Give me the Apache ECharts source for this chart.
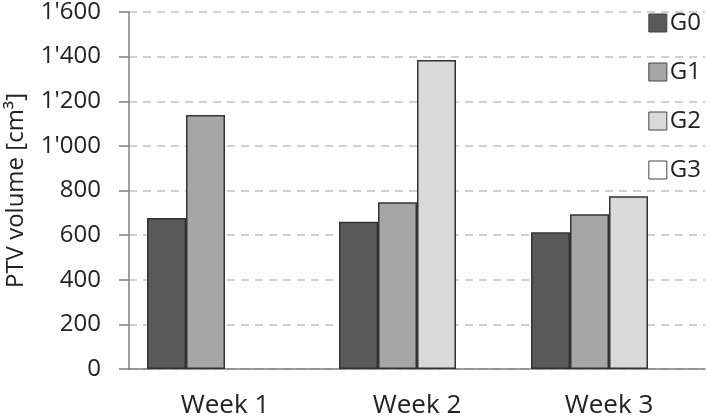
<!DOCTYPE html>
<html><head><meta charset="utf-8">
<script src="https://cdn.jsdelivr.net/npm/echarts@6/dist/echarts.min.js"></script>
<style>html,body{margin:0;padding:0;background:#fff}#c{width:708px;height:417px}</style>
</head><body><div id="c"></div>
<script>
var categories = ['Week 1', 'Week 2', 'Week 3'];
var seriesNames = ['G0', 'G1', 'G2', 'G3'];
var g0 = [677, 660, 613];
var g1 = [1138, 747, 693];
var g2 = [null, 1385, 774];
var g3 = [null, null, null];
var yTicks = [0, 200, 400, 600, 800, 1000, 1200, 1400, 1600];

var colors = ['#595959', '#a6a6a6', '#d9d9d9', '#ffffff'];
var values = [g0, g1, g2, g3];
function fmt(v) {
  if (v >= 1000) { var r = String(v % 1000); while (r.length < 3) r = '0' + r; return Math.floor(v / 1000) + "'" + r; }
  return String(v);
}
var font = '"Open Sans", sans-serif';
var chart = echarts.init(document.getElementById('c'));
chart.setOption({
  animation: false,
  grid: { left: 129, right: 3, top: 12, bottom: 48, containLabel: false, outerBoundsMode: 'none' },
  legend: {
    orient: 'vertical', right: 2, top: 6,
    itemWidth: 18, itemHeight: 18, itemGap: 25,
    icon: 'rect',
    itemStyle: { borderColor: '#444', borderWidth: 1 },
    textStyle: { fontFamily: font, fontSize: 24, color: '#222', lineHeight: 24, padding: [0, 0, 0, -2] },
    data: seriesNames
  },
  xAxis: {
    type: 'category', data: categories,
    axisLine: { lineStyle: { color: '#7f7f7f', width: 1.5 } },
    axisTick: { show: false },
    axisLabel: { fontFamily: font, fontSize: 26, color: '#222', margin: 24 }
  },
  yAxis: {
    type: 'value', min: yTicks[0], max: yTicks[yTicks.length - 1], interval: 200,
    name: 'PTV volume [cm³]', nameLocation: 'middle', nameGap: 101,
    nameTextStyle: { fontFamily: font, fontSize: 24, color: '#222' },
    axisLine: { show: true, lineStyle: { color: '#7f7f7f', width: 1.5 } },
    axisTick: { show: true, length: 10, lineStyle: { color: '#7f7f7f', width: 1.5 } },
    axisLabel: { fontFamily: font, fontSize: 24, color: '#222', margin: 28, formatter: fmt },
    splitLine: { lineStyle: { color: '#d0d0d0', type: [8, 6], width: 2 } }
  },
  series: seriesNames.map(function (n, i) {
    return {
      name: n, type: 'bar', data: values[i],
      barGap: '0%', barCategoryGap: '18.75%',
      itemStyle: { color: colors[i], borderColor: '#333', borderWidth: 1.5 }
    };
  })
});
</script></body></html>
